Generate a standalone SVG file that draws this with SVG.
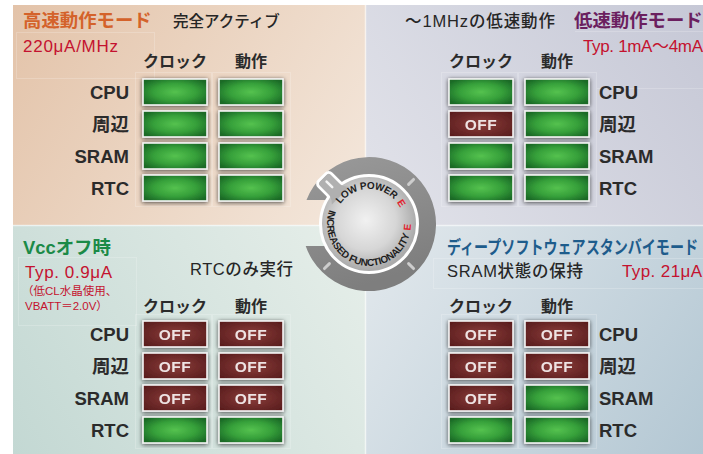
<svg xmlns="http://www.w3.org/2000/svg" width="703" height="454" viewBox="0 0 703 454">
  <defs>
    <linearGradient id="bgTL" gradientUnits="userSpaceOnUse" x1="13" y1="5" x2="366" y2="225">
      <stop offset="0" stop-color="#e3c3a9"/>
      <stop offset="1" stop-color="#f4e8dd"/>
    </linearGradient>
    <linearGradient id="bgTR" gradientUnits="userSpaceOnUse" x1="703" y1="5" x2="366" y2="225">
      <stop offset="0" stop-color="#c6c8d6"/>
      <stop offset="1" stop-color="#e2e3ea"/>
    </linearGradient>
    <linearGradient id="bgBL" gradientUnits="userSpaceOnUse" x1="366" y1="225" x2="13" y2="454">
      <stop offset="0" stop-color="#e7efea"/>
      <stop offset="1" stop-color="#c3d8d3"/>
    </linearGradient>
    <linearGradient id="bgBR" gradientUnits="userSpaceOnUse" x1="366" y1="225" x2="703" y2="454">
      <stop offset="0" stop-color="#e3e9ed"/>
      <stop offset="1" stop-color="#b3c7d3"/>
    </linearGradient>
    <radialGradient id="gOn" cx="0.5" cy="0.5" r="0.6">
      <stop offset="0" stop-color="#55c24f"/>
      <stop offset="0.55" stop-color="#36a03a"/>
      <stop offset="1" stop-color="#1b6b27"/>
    </radialGradient>
    <radialGradient id="gOff" cx="0.5" cy="0.5" r="0.6">
      <stop offset="0" stop-color="#8c3d3b"/>
      <stop offset="1" stop-color="#5c1f1f"/>
    </radialGradient>
    <linearGradient id="ringG" x1="0" y1="0" x2="0.3" y2="1">
      <stop offset="0" stop-color="#9a9a9a"/>
      <stop offset="1" stop-color="#7e7e7e"/>
    </linearGradient>
    <radialGradient id="knobG" gradientUnits="userSpaceOnUse" cx="366" cy="220" r="50">
      <stop offset="0" stop-color="#f1f1f1"/>
      <stop offset="0.6" stop-color="#d6d6d6"/>
      <stop offset="1" stop-color="#ababab"/>
    </radialGradient>
    <filter id="sh" x="-25%" y="-50%" width="150%" height="200%">
      <feGaussianBlur in="SourceAlpha" stdDeviation="2.2"/>
      <feOffset dy="1" result="b"/>
      <feFlood flood-color="#1a1a1a" flood-opacity="0.75"/>
      <feComposite in2="b" operator="in"/>
      <feMerge>
        <feMergeNode/>
        <feMergeNode in="SourceGraphic"/>
      </feMerge>
    </filter>
    <!-- baselines for the dial lettering -->
    <path id="arcTop" d="M 340.3 203.9 A 35 35 0 0 1 401.9 212"/>
    <path id="arcLow" d="M 329.5 209.6 A 42 42 0 1 0 407.1 206.3"/>
  </defs>
  <style>
    text { font-family: "Liberation Sans", "Noto Sans CJK JP", sans-serif; }
    .lbl { font-size: 18.5px; font-weight: 700; fill: #2b2b2b; }
    .lbl.r { text-anchor: end; }
    .hdr { font-size: 16px; font-weight: 700; fill: #2b2b2b; text-anchor: middle; }
    .sub { font-size: 15.5px; font-weight: 500; fill: #262626; }
    .sub.mix { font-size: 16.5px; }
    .ttl { font-size: 18.4px; font-weight: 700; }
    .red { font-size: 17px; fill: #c4122f; }
    .note { font-size: 11.5px; fill: #c4122f; }
    .cell rect { stroke: #f4f4f4; stroke-width: 1.6; }
    .on rect { fill: url(#gOn); }
    .off rect { fill: url(#gOff); }
    .off text { font-size: 15.5px; font-weight: 700; fill: #eee3e3; text-anchor: middle; letter-spacing: 0.5px; }
    .faint { fill: none; stroke: #ffffff; stroke-opacity: 0.2; stroke-width: 1; }
    .tick { stroke: #cdcdcd; stroke-width: 3; stroke-linecap: round; }
    .dial { font-family: "Liberation Sans", sans-serif; font-weight: 700; font-size: 10px; fill: #1e1e1e; letter-spacing: -0.3px; }
    .dial .e { fill: #e2232e; }
  </style>

  <!-- page and the four mode panels -->
  <rect width="703" height="454" fill="#ffffff"/>
  <rect x="13" y="5" width="353" height="220" fill="url(#bgTL)"/>
  <rect x="366" y="5" width="337" height="220" fill="url(#bgTR)"/>
  <rect x="13" y="225" width="353" height="229" fill="url(#bgBL)"/>
  <rect x="366" y="225" width="337" height="229" fill="url(#bgBR)"/>
  <line x1="13" y1="225.5" x2="703" y2="225.5" stroke="#ffffff" stroke-opacity="0.6" stroke-width="1.5"/>
  <line x1="365.5" y1="5" x2="365.5" y2="454" stroke="#ffffff" stroke-opacity="0.6" stroke-width="1.5"/>

  <!-- high-speed mode -->
  <g id="mode-highspeed">
    <rect class="faint" x="16.5" y="32.5" width="138" height="46"/>
    <rect class="faint" x="135.5" y="72.5" width="76" height="134"/>
    <rect class="faint" x="212.5" y="72.5" width="78" height="134"/>
    <text class="ttl" x="23" y="27" fill="#d4622a">高速動作モード</text>
    <text class="sub" x="173" y="27">完全アクティブ</text>
    <text class="red" x="23" y="52" textLength="95" lengthAdjust="spacing">220μA/MHz</text>
    <text class="hdr" x="175" y="66.5">クロック</text>
    <text class="hdr" x="251" y="66.5">動作</text>
    <text class="lbl r" x="129" y="99">CPU</text>
    <text class="lbl r" x="129" y="131">周辺</text>
    <text class="lbl r" x="129" y="163">SRAM</text>
    <text class="lbl r" x="129" y="195">RTC</text>
    <g id="hs-cpu-clk" class="cell on" filter="url(#sh)"><rect x="143" y="79" width="64" height="26"/></g>
    <g id="hs-cpu-run" class="cell on" filter="url(#sh)"><rect x="219" y="79" width="64" height="26"/></g>
    <g id="hs-per-clk" class="cell on" filter="url(#sh)"><rect x="143" y="111" width="64" height="26"/></g>
    <g id="hs-per-run" class="cell on" filter="url(#sh)"><rect x="219" y="111" width="64" height="26"/></g>
    <g id="hs-sram-clk" class="cell on" filter="url(#sh)"><rect x="143" y="143" width="64" height="26"/></g>
    <g id="hs-sram-run" class="cell on" filter="url(#sh)"><rect x="219" y="143" width="64" height="26"/></g>
    <g id="hs-rtc-clk" class="cell on" filter="url(#sh)"><rect x="143" y="175" width="64" height="26"/></g>
    <g id="hs-rtc-run" class="cell on" filter="url(#sh)"><rect x="219" y="175" width="64" height="26"/></g>
  </g>

  <!-- low-speed mode -->
  <g id="mode-lowspeed">
    <line class="faint" x1="575" y1="31.5" x2="703" y2="31.5"/>
    <rect class="faint" x="441.5" y="72.5" width="76" height="134"/>
    <rect class="faint" x="518.5" y="72.5" width="78" height="134"/>
    <line class="faint" x1="597" y1="88.5" x2="703" y2="88.5"/>
    <text class="sub mix" x="405" y="27" textLength="150" lengthAdjust="spacing">〜1MHzの低速動作</text>
    <text class="ttl" x="574" y="27" fill="#6b1f5f">低速動作モード</text>
    <text class="red" x="583" y="52" textLength="120" lengthAdjust="spacing">Typ. 1mA〜4mA</text>
    <text class="hdr" x="481" y="66.5">クロック</text>
    <text class="hdr" x="557" y="66.5">動作</text>
    <text class="lbl" x="599" y="99">CPU</text>
    <text class="lbl" x="599" y="131">周辺</text>
    <text class="lbl" x="599" y="163">SRAM</text>
    <text class="lbl" x="599" y="195">RTC</text>
    <g id="ls-cpu-clk" class="cell on" filter="url(#sh)"><rect x="449" y="79" width="64" height="26"/></g>
    <g id="ls-cpu-run" class="cell on" filter="url(#sh)"><rect x="525" y="79" width="64" height="26"/></g>
    <g id="ls-per-clk" class="cell off" filter="url(#sh)"><rect x="449" y="111" width="64" height="26"/><text x="481" y="129.5">OFF</text></g>
    <g id="ls-per-run" class="cell on" filter="url(#sh)"><rect x="525" y="111" width="64" height="26"/></g>
    <g id="ls-sram-clk" class="cell on" filter="url(#sh)"><rect x="449" y="143" width="64" height="26"/></g>
    <g id="ls-sram-run" class="cell on" filter="url(#sh)"><rect x="525" y="143" width="64" height="26"/></g>
    <g id="ls-rtc-clk" class="cell on" filter="url(#sh)"><rect x="449" y="175" width="64" height="26"/></g>
    <g id="ls-rtc-run" class="cell on" filter="url(#sh)"><rect x="525" y="175" width="64" height="26"/></g>
  </g>

  <!-- Vcc off -->
  <g id="mode-vccoff">
    <rect class="faint" x="18.5" y="257.5" width="118" height="68"/>
    <rect class="faint" x="135.5" y="314.5" width="76" height="134"/>
    <rect class="faint" x="212.5" y="314.5" width="78" height="134"/>
    <text class="ttl" x="23" y="254" fill="#1b8a47">Vccオフ時</text>
    <text class="red" x="25" y="278" textLength="87" lengthAdjust="spacing">Typ. 0.9μA</text>
    <text class="note" x="22" y="295">（低CL水晶使用、</text>
    <text class="note" x="25" y="310">VBATT＝2.0V）</text>
    <text class="sub mix" x="190" y="275" textLength="103" lengthAdjust="spacing">RTCのみ実行</text>
    <text class="hdr" x="175" y="312">クロック</text>
    <text class="hdr" x="251" y="312">動作</text>
    <text class="lbl r" x="129" y="341">CPU</text>
    <text class="lbl r" x="129" y="373">周辺</text>
    <text class="lbl r" x="129" y="405">SRAM</text>
    <text class="lbl r" x="129" y="437">RTC</text>
    <g id="vo-cpu-clk" class="cell off" filter="url(#sh)"><rect x="143" y="321" width="64" height="26"/><text x="175" y="339.5">OFF</text></g>
    <g id="vo-cpu-run" class="cell off" filter="url(#sh)"><rect x="219" y="321" width="64" height="26"/><text x="251" y="339.5">OFF</text></g>
    <g id="vo-per-clk" class="cell off" filter="url(#sh)"><rect x="143" y="353" width="64" height="26"/><text x="175" y="371.5">OFF</text></g>
    <g id="vo-per-run" class="cell off" filter="url(#sh)"><rect x="219" y="353" width="64" height="26"/><text x="251" y="371.5">OFF</text></g>
    <g id="vo-sram-clk" class="cell off" filter="url(#sh)"><rect x="143" y="385" width="64" height="26"/><text x="175" y="403.5">OFF</text></g>
    <g id="vo-sram-run" class="cell off" filter="url(#sh)"><rect x="219" y="385" width="64" height="26"/><text x="251" y="403.5">OFF</text></g>
    <g id="vo-rtc-clk" class="cell on" filter="url(#sh)"><rect x="143" y="417" width="64" height="26"/></g>
    <g id="vo-rtc-run" class="cell on" filter="url(#sh)"><rect x="219" y="417" width="64" height="26"/></g>
  </g>

  <!-- deep software standby -->
  <g id="mode-deepstandby">
    <rect class="faint" x="433.5" y="258.5" width="270" height="30"/>
    <rect class="faint" x="441.5" y="314.5" width="76" height="134"/>
    <rect class="faint" x="518.5" y="314.5" width="78" height="134"/>
    <text class="ttl" x="447" y="254" fill="#1e5c8c" font-size="16.5" textLength="251" lengthAdjust="spacingAndGlyphs">ディープソフトウェアスタンバイモード</text>
    <text class="sub mix" x="447" y="277" textLength="136" lengthAdjust="spacing">SRAM状態の保持</text>
    <text class="red" x="622" y="277" textLength="80" lengthAdjust="spacing">Typ. 21μA</text>
    <text class="hdr" x="481" y="312">クロック</text>
    <text class="hdr" x="557" y="312">動作</text>
    <text class="lbl" x="599" y="341">CPU</text>
    <text class="lbl" x="599" y="373">周辺</text>
    <text class="lbl" x="599" y="405">SRAM</text>
    <text class="lbl" x="599" y="437">RTC</text>
    <g id="ds-cpu-clk" class="cell off" filter="url(#sh)"><rect x="449" y="321" width="64" height="26"/><text x="481" y="339.5">OFF</text></g>
    <g id="ds-cpu-run" class="cell off" filter="url(#sh)"><rect x="525" y="321" width="64" height="26"/><text x="557" y="339.5">OFF</text></g>
    <g id="ds-per-clk" class="cell off" filter="url(#sh)"><rect x="449" y="353" width="64" height="26"/><text x="481" y="371.5">OFF</text></g>
    <g id="ds-per-run" class="cell off" filter="url(#sh)"><rect x="525" y="353" width="64" height="26"/><text x="557" y="371.5">OFF</text></g>
    <g id="ds-sram-clk" class="cell off" filter="url(#sh)"><rect x="449" y="385" width="64" height="26"/><text x="481" y="403.5">OFF</text></g>
    <g id="ds-sram-run" class="cell on" filter="url(#sh)"><rect x="525" y="385" width="64" height="26"/></g>
    <g id="ds-rtc-clk" class="cell on" filter="url(#sh)"><rect x="449" y="417" width="64" height="26"/></g>
    <g id="ds-rtc-run" class="cell on" filter="url(#sh)"><rect x="525" y="417" width="64" height="26"/></g>
  </g>

  <!-- selector dial -->
  <g id="dial">
    <path d="M 306.5 200 A 67 67 0 1 1 305.7 246 L 340 246 L 340 200 Z" fill="url(#ringG)"/>
    <g transform="translate(369 224)">
      <line class="tick" x1="56" y1="0" x2="63" y2="0" transform="rotate(-45)"/>
      <line class="tick" x1="56" y1="0" x2="63" y2="0" transform="rotate(45)"/>
      <line class="tick" x1="56" y1="0" x2="63" y2="0" transform="rotate(135)"/>
    </g>
    <g transform="translate(369 224) rotate(-135)">
      <path d="M 38 -14 Q 45 -9 50 -9 L 62 -9 A 4 4 0 0 1 66 -5 L 66 5 A 4 4 0 0 1 62 9 L 50 9 Q 45 9 38 14 Z" fill="#b0b0b0" stroke="#ffffff" stroke-width="3"/>
    </g>
    <circle cx="369" cy="224" r="48.5" fill="url(#knobG)" stroke="#ffffff" stroke-width="3"/>
    <g transform="translate(369 224) rotate(-135)">
      <path d="M 40 -12.5 Q 45 -7.6 50 -7.6 L 62 -7.6 A 2.6 2.6 0 0 1 64.6 -5 L 64.6 5 A 2.6 2.6 0 0 1 62 7.6 L 50 7.6 Q 45 7.6 40 12.5 Z" fill="#b0b0b0"/>
      <line x1="52" y1="0" x2="60" y2="0" stroke="#f4f4f4" stroke-width="2.5" stroke-linecap="round"/>
    </g>
    <text class="dial"><textPath href="#arcTop">LOW POWER<tspan class="e" dx="4">E</tspan></textPath></text>
    <text class="dial"><textPath href="#arcLow">INCREASED FUNCTIONALITY<tspan class="e" dx="4">E</tspan></textPath></text>
  </g>
</svg>
